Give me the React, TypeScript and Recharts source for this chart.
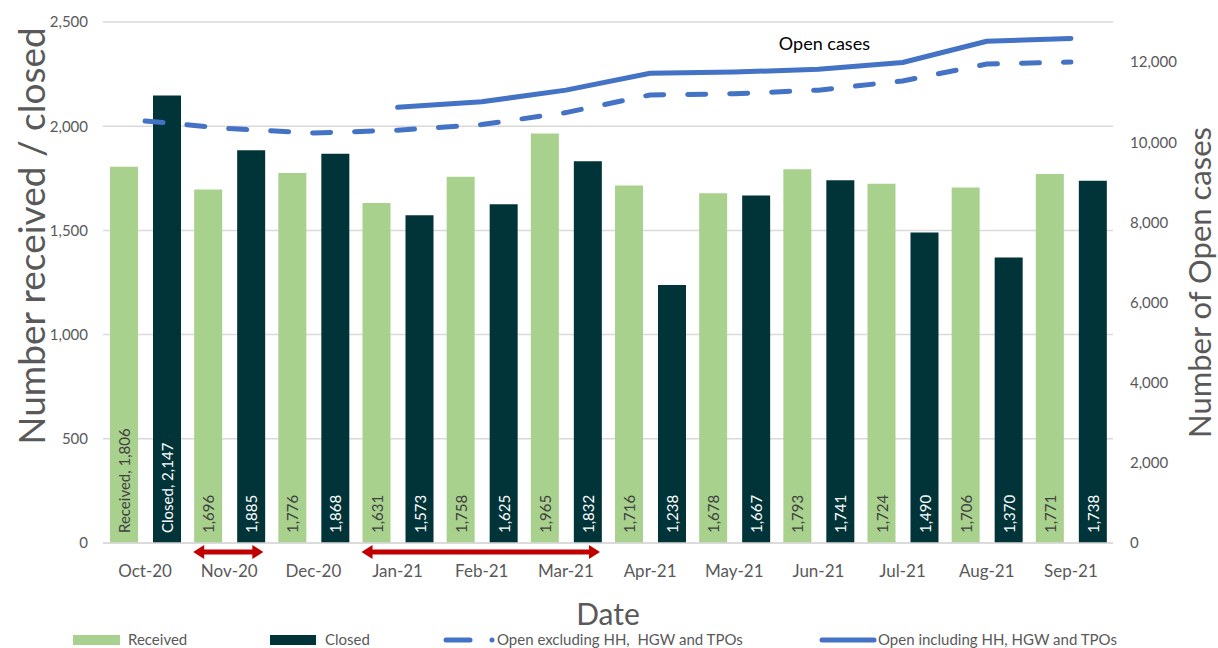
import { ComposedChart, Bar, Line, XAxis, YAxis, CartesianGrid, Legend, LabelList, Label } from "recharts";

const months = ["Oct-20", "Nov-20", "Dec-20", "Jan-21", "Feb-21", "Mar-21", "Apr-21", "May-21", "Jun-21", "Jul-21", "Aug-21", "Sep-21"];
const received = [1806, 1696, 1776, 1631, 1758, 1965, 1716, 1678, 1793, 1724, 1706, 1771];
const closed = [2147, 1885, 1868, 1573, 1625, 1832, 1238, 1667, 1741, 1490, 1370, 1738];
const openExcl = [10530, 10340, 10230, 10300, 10440, 10740, 11180, 11210, 11300, 11530, 11950, 12000];
const openIncl = [null, null, null, 10870, 11010, 11300, 11720, 11750, 11820, 11990, 12520, 12590];

const leftTicks = [0, 500, 1000, 1500, 2000, 2500];
const rightTicks = [0, 2000, 4000, 6000, 8000, 10000, 12000];
// red arrows under the axis (first month, last month)
const arrowRanges = [["Nov-20", "Nov-20"], ["Jan-21", "Mar-21"]];

const data = months.map((m, i) => ({
  month: m,
  received: received[i],
  closed: closed[i],
  openExcl: openExcl[i],
  openIncl: openIncl[i],
}));

const GREY = "#595959";
const BLUE = "#4472C4";
const RED = "#C00000";
const fmt = (v: number) => v.toLocaleString("en-US");

function MonthTick(props: any) {
  const { x, y, payload, width, visibleTicksCount } = props;
  const bw = width && visibleTicksCount ? width / visibleTicksCount : 84;
  const idx = months.indexOf(payload.value);
  const arrows: any[] = [];
  arrowRanges.forEach(([a, b], k) => {
    const i0 = months.indexOf(a);
    const i1 = months.indexOf(b);
    if (idx !== i0) return;
    const head = 11;
    const left = x - bw / 2 + 6;
    const right = x - bw / 2 + (i1 - i0 + 1) * bw - 8;
    const ay = y + 1;
    arrows.push(
      <g key={k}>
        <line x1={left + head - 1} x2={right - head + 1} y1={ay} y2={ay} stroke={RED} strokeWidth={5} />
        <polygon points={`${left},${ay} ${left + head},${ay - 7} ${left + head},${ay + 7}`} fill={RED} />
        <polygon points={`${right},${ay} ${right - head},${ay - 7} ${right - head},${ay + 7}`} fill={RED} />
      </g>
    );
  });
  return (
    <g>
      {arrows}
      <text x={x} y={y + 26} textAnchor="middle" fill={GREY} fontSize={17}>
        {payload.value}
      </text>
    </g>
  );
}

function barLabel(prefix: string, color: string) {
  return (p: any) => {
    const { x, y, width, height, value, index } = p;
    const cx = Number(x) + Number(width) / 2;
    const by = Number(y) + Number(height) - 10;
    const txt = index === 0 ? `${prefix}, ${fmt(value)}` : fmt(value);
    return (
      <text x={cx} y={by} transform={`rotate(-90, ${cx}, ${by})`} textAnchor="start" dominantBaseline="central" fill={color} fontSize={15}>
        {txt}
      </text>
    );
  };
}

function openLabel(p: any) {
  if (p.index !== 8) return null;
  return (
    <text x={Number(p.x) + 6} y={Number(p.y) - 19} textAnchor="middle" fill="#000" fontSize={18}>
      Open cases
    </text>
  );
}

function LeftTitle(p: any) {
  const { x, y } = p.viewBox;
  const cx = x + 30;
  const cy = y + 214;
  return (
    <text x={cx} y={cy} transform={`rotate(-90, ${cx}, ${cy})`} textAnchor="middle" dominantBaseline="central" fill={GREY} fontSize={37}>
      Number received / closed
    </text>
  );
}

function RightTitle(p: any) {
  const { x, y, height } = p.viewBox;
  const cx = x + 86;
  const cy = y + height / 2;
  return (
    <text x={cx} y={cy} transform={`rotate(-90, ${cx}, ${cy})`} textAnchor="middle" dominantBaseline="central" fill={GREY} fontSize={31}>
      Number of Open cases
    </text>
  );
}

function LegendRow() {
  const ty = 17;
  return (
    <svg width={1218} height={20} style={{ display: "block", overflow: "visible" }}>
      <rect x={73} y={7} width={47} height={10} fill="#A9D18E" />
      <text x={128} y={ty} fill={GREY} fontSize={15}>Received</text>
      <rect x={270} y={7} width={46} height={10} fill="#003438" />
      <text x={325} y={ty} fill={GREY} fontSize={15}>Closed</text>
      <line x1={446} x2={470} y1={12} y2={12} stroke={BLUE} strokeWidth={5} strokeLinecap="round" />
      <circle cx={492} cy={12} r={2.5} fill={BLUE} />
      <text x={497} y={ty} fill={GREY} fontSize={15} style={{ whiteSpace: "pre" }}>Open excluding HH,  HGW and TPOs</text>
      <line x1={822} x2={874} y1={12} y2={12} stroke={BLUE} strokeWidth={5} strokeLinecap="round" />
      <text x={878} y={ty} fill={GREY} fontSize={15}>Open including HH, HGW and TPOs</text>
    </svg>
  );
}

export default function App() {
  return (
    <div style={{ position: "absolute", left: 0, top: 0, fontFamily: "Lato, 'Open Sans', sans-serif", background: "#fff" }}>
      <ComposedChart width={1218} height={648} data={data} margin={{ top: 22, right: 0, bottom: 0, left: 0 }} barGap={15}>
        <CartesianGrid yAxisId="left" vertical={false} stroke="#D9D9D9" strokeWidth={1.5} />
        <XAxis
          dataKey="month"
          height={85}
          interval={0}
          tickLine={false}
          axisLine={{ stroke: "#D9D9D9", strokeWidth: 1.5 }}
          tick={<MonthTick />}
        >
          <Label value="Date" position="insideBottom" offset={3} fill={GREY} fontSize={30} />
        </XAxis>
        <YAxis
          yAxisId="left"
          width={103}
          domain={[0, 2500]}
          ticks={leftTicks}
          tickFormatter={fmt}
          axisLine={false}
          tickLine={false}
          tickMargin={9}
          tick={{ fill: GREY, fontSize: 15 }}
        >
          <Label content={<LeftTitle />} />
        </YAxis>
        <YAxis
          yAxisId="right"
          orientation="right"
          width={105}
          domain={[0, 13000]}
          ticks={rightTicks}
          tickFormatter={fmt}
          axisLine={false}
          tickLine={false}
          tickMargin={11}
          tick={{ fill: GREY, fontSize: 15 }}
        >
          <Label content={<RightTitle />} />
        </YAxis>
        <Legend verticalAlign="bottom" height={20} width={1218} wrapperStyle={{ left: 0 }} content={() => <LegendRow />} />
        <Bar yAxisId="left" dataKey="received" name="Received" fill="#A9D18E" barSize={28} isAnimationActive={false}>
          <LabelList dataKey="received" content={barLabel("Received", "#404040")} />
        </Bar>
        <Bar yAxisId="left" dataKey="closed" name="Closed" fill="#003438" barSize={28} isAnimationActive={false}>
          <LabelList dataKey="closed" content={barLabel("Closed", "#ffffff")} />
        </Bar>
        <Line
          yAxisId="right"
          dataKey="openExcl"
          name="Open excluding HH,  HGW and TPOs"
          type="linear"
          stroke={BLUE}
          strokeWidth={5}
          strokeDasharray="18 24"
          strokeLinecap="round"
          dot={false}
          isAnimationActive={false}
        />
        <Line
          yAxisId="right"
          dataKey="openIncl"
          name="Open including HH, HGW and TPOs"
          type="linear"
          stroke={BLUE}
          strokeWidth={5}
          strokeLinecap="round"
          strokeLinejoin="round"
          dot={false}
          isAnimationActive={false}
        >
          <LabelList dataKey="openIncl" content={openLabel} />
        </Line>
      </ComposedChart>
    </div>
  );
}
